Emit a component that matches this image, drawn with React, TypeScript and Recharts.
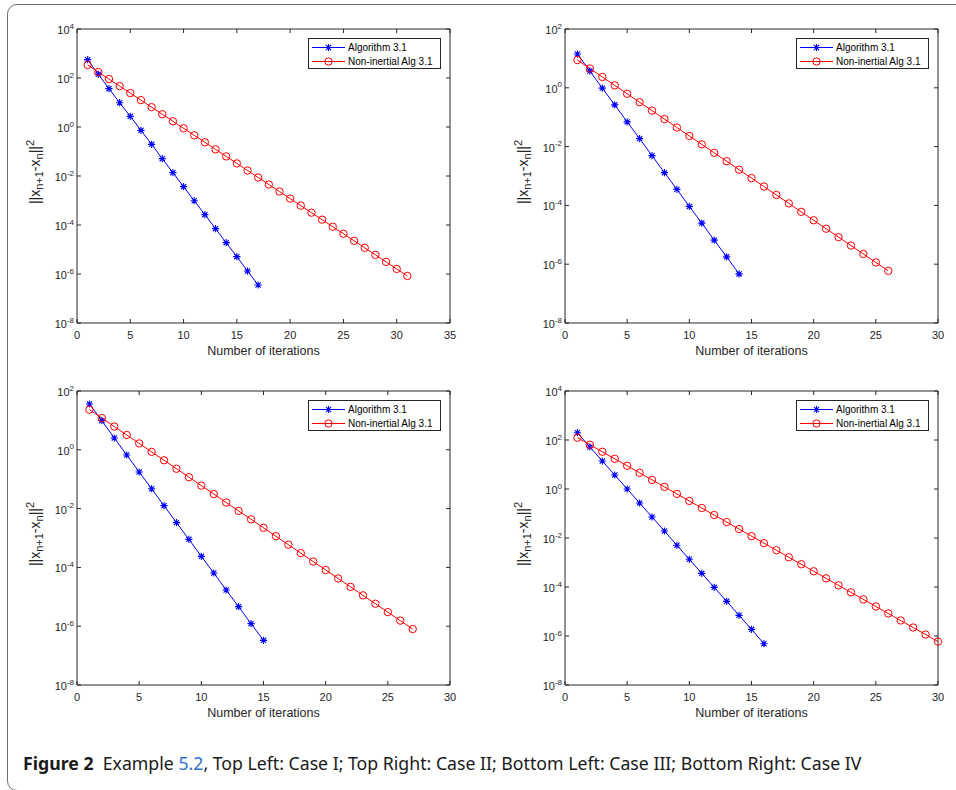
import React from 'react';
import { LineChart, Line, XAxis, YAxis, Legend } from 'recharts';

const FONT = '"Liberation Sans", Arial, Helvetica, sans-serif';
const AX = '#262626';
const BLUE = '#0000ff';
const RED = '#ff0000';

const seriesNames = ['Algorithm 3.1', 'Non-inertial Alg 3.1'];

// Case I (top left)
const caseIAlg = [560, 141, 36.7, 9.8, 2.72, 0.73, 0.196, 0.051, 0.0137, 0.00367, 9.8e-4, 2.64e-4, 7.1e-5, 1.9e-5, 5.1e-6, 1.32e-6, 3.56e-7];
const caseINon = [340, 175, 90.6, 46.8, 24.2, 12.5, 6.44, 3.33, 1.72, 0.887, 0.458, 0.237, 0.122, 0.0631, 0.0326, 0.0168, 0.00869, 0.00449, 0.00232, 0.0012, 6.18e-4, 3.19e-4, 1.65e-4, 8.51e-5, 4.4e-5, 2.27e-5, 1.17e-5, 6.05e-6, 3.13e-6, 1.61e-6, 8.34e-7];

// Case II (top right)
const caseIIAlg = [14.1, 3.7, 0.975, 0.263, 0.0693, 0.0187, 0.00493, 0.0013, 3.51e-4, 9.24e-5, 2.5e-5, 6.58e-6, 1.78e-6, 4.68e-7];
const caseIINon = [8.77, 4.53, 2.34, 1.21, 0.625, 0.323, 0.167, 0.0863, 0.0446, 0.023, 0.0119, 0.00615, 0.00318, 0.00164, 8.47e-4, 4.39e-4, 2.26e-4, 1.17e-4, 6.04e-5, 3.12e-5, 1.61e-5, 8.34e-6, 4.31e-6, 2.22e-6, 1.15e-6, 5.94e-7];

// Case III (bottom left)
const caseIIIAlg = [36.1, 9.79, 2.52, 0.665, 0.176, 0.0476, 0.0126, 0.00333, 9.01e-4, 2.38e-4, 6.45e-5, 1.7e-5, 4.62e-6, 1.22e-6, 3.3e-7];
const caseIIINon = [23.2, 12.0, 6.18, 3.19, 1.65, 0.851, 0.44, 0.227, 0.117, 0.0605, 0.0313, 0.0161, 0.00834, 0.00431, 0.00222, 0.00115, 5.93e-4, 3.06e-4, 1.58e-4, 8.17e-5, 4.22e-5, 2.18e-5, 1.12e-5, 5.81e-6, 3.0e-6, 1.55e-6, 8.0e-7];

// Case IV (bottom right)
const caseIVAlg = [199, 51.8, 13.9, 3.73, 1.0, 0.268, 0.072, 0.0193, 0.00503, 0.00135, 3.61e-4, 9.69e-5, 2.6e-5, 6.98e-6, 1.87e-6, 4.86e-7];
const caseIVNon = [124, 64.3, 33.2, 17.1, 8.85, 4.57, 2.36, 1.22, 0.63, 0.325, 0.168, 0.0867, 0.0448, 0.0231, 0.0119, 0.00617, 0.00318, 0.00164, 8.49e-4, 4.39e-4, 2.26e-4, 1.17e-4, 6.04e-5, 3.12e-5, 1.61e-5, 8.32e-6, 4.3e-6, 2.22e-6, 1.15e-6, 5.92e-7];

const xTicks35 = [0, 5, 10, 15, 20, 25, 30, 35];
const xTicks30 = [0, 5, 10, 15, 20, 25, 30];
const yMajor4 = [1e-8, 1e-6, 1e-4, 1e-2, 1, 1e2, 1e4];
const yMajor2 = [1e-8, 1e-6, 1e-4, 1e-2, 1, 1e2];

// minor log ticks (2..9 x 10^k and the odd decades)
const minorTicks = (topExp: number) => {
    const out: number[] = [];
    for (let k = -8; k < topExp; k++) {
        for (let m = 1; m <= 9; m++) {
            if (m === 1 && k % 2 === 0) continue;
            out.push(m * Math.pow(10, k));
        }
    }
    return out;
};

const toPoints = (vals: number[]) => vals.map((v, i) => ({ n: i + 1, v }));

const Asterisk = ({ cx, cy }: { cx: number; cy: number }) => {
    const r = 3.6;
    const d = r * 0.72;
    return (
        <path
            d={`M${cx - r},${cy}H${cx + r}M${cx},${cy - r}V${cy + r}M${cx - d},${cy - d}L${cx + d},${cy + d}M${cx - d},${cy + d}L${cx + d},${cy - d}`}
            stroke={BLUE}
            strokeWidth={1.1}
            fill="none"
        />
    );
};

const Ring = ({ cx, cy }: { cx: number; cy: number }) => (
    <circle cx={cx} cy={cy} r={3.7} stroke={RED} strokeWidth={1} fill="none" />
);

const NoTick = () => null;

const XLabel = (props: any) => {
    const vb = props.viewBox;
    return (
        <text x={vb.x + vb.width / 2} y={vb.y + 32} textAnchor="middle" fontSize={12.5} fill={AX} fontFamily={FONT}>
            Number of iterations
        </text>
    );
};

const YLabel = (props: any) => {
    const vb = props.viewBox;
    const bx = vb.x + vb.width - 37;
    const cy = vb.y + vb.height / 2 - 4;
    return (
        <text transform={`translate(${bx},${cy}) rotate(-90)`} textAnchor="middle" fontSize={14} fill={AX} fontFamily={FONT}>
            <tspan>||x</tspan>
            <tspan dy={3} fontSize={11}>n+1</tspan>
            <tspan dy={-3}>-x</tspan>
            <tspan dy={3} fontSize={11}>n</tspan>
            <tspan dy={-3}>||</tspan>
            <tspan dy={-6.5} fontSize={11}>2</tspan>
        </text>
    );
};

const LegendBox = () => (
    <svg width={133} height={31} style={{ display: 'block' }}>
        <rect x={0.5} y={0.5} width={132} height={30} fill="#fff" stroke={AX} strokeWidth={1} />
        <line x1={4} x2={37} y1={9.5} y2={9.5} stroke={BLUE} strokeWidth={1} />
        <Asterisk cx={20.5} cy={9.5} />
        <text x={40} y={13} fontSize={10} fill="#000" fontFamily={FONT}>{seriesNames[0]}</text>
        <line x1={4} x2={37} y1={23.5} y2={23.5} stroke={RED} strokeWidth={1} />
        <Ring cx={20.5} cy={23.5} />
        <text x={40} y={27} fontSize={10} fill="#000" fontFamily={FONT}>{seriesNames[1]}</text>
    </svg>
);

interface PanelProps {
    left: number;
    top: number;
    pl: number;
    pt: number;
    xMax: number;
    xTicks: number[];
    yTop: number;
    yMajor: number[];
    alg: number[];
    non: number[];
}

const W = 478;
const H = 370;
const PW = 373;
const PH = 294;
const MAJOR = 4;
const MINOR = 2.2;

const Panel: React.FC<PanelProps> = ({ left, top, pl, pt, xMax, xTicks, yTop, yMajor, alg, non }) => {
    // the right and top axes are 1px wide so recharts still draws them
    const margin = { left: pl - 40, top: pt - 1, right: W - pl - PW - 1, bottom: H - pt - PH - 30 };
    const yDomain = [1e-8, Math.pow(10, yTop)];
    const minors = minorTicks(yTop);
    const pb = pt + PH;
    const pr = pl + PW;

    // inward ticks on both bottom and top edges, label below
    const xTick = (p: any) => (
        <g>
            <line x1={p.x} x2={p.x} y1={pb} y2={pb - MAJOR} stroke={AX} />
            <line x1={p.x} x2={p.x} y1={pt} y2={pt + MAJOR} stroke={AX} />
            <text x={p.x} y={p.y} dy="0.71em" textAnchor="middle" fontSize={11} fill={AX} fontFamily={FONT}>
                {p.payload.value}
            </text>
        </g>
    );

    // major decade ticks on left and right edges, 10^k label on the left
    const yTick = (p: any) => {
        const e = Math.round(Math.log10(p.payload.value));
        return (
            <g>
                <line x1={pl} x2={pl + MAJOR} y1={p.y} y2={p.y} stroke={AX} />
                <line x1={pr} x2={pr - MAJOR} y1={p.y} y2={p.y} stroke={AX} />
                <text x={p.x} y={p.y} textAnchor="end" fontSize={11} fill={AX} fontFamily={FONT}>
                    <tspan dy={5}>10</tspan>
                    <tspan dy={-5.5} fontSize={8}>{e}</tspan>
                </text>
            </g>
        );
    };

    const yMinorTick = (p: any) => (
        <g>
            <line x1={pl} x2={pl + MINOR} y1={p.y} y2={p.y} stroke={AX} />
            <line x1={pr} x2={pr - MINOR} y1={p.y} y2={p.y} stroke={AX} />
        </g>
    );

    return (
        <div style={{ position: 'absolute', left, top }}>
            <LineChart width={W} height={H} margin={margin}>
                <XAxis xAxisId="b" type="number" dataKey="n" domain={[0, xMax]} ticks={xTicks} interval={0}
                    height={30} tickSize={0} tickMargin={8} tickLine={false} stroke={AX} tick={xTick} label={{ content: XLabel }} />
                <XAxis xAxisId="t" orientation="top" type="number" dataKey="n" domain={[0, xMax]} ticks={xTicks} interval={0}
                    height={1} tickSize={0} tickLine={false} stroke={AX} tick={NoTick} />
                <YAxis yAxisId="l" type="number" scale="log" domain={yDomain} ticks={yMajor} interval={0}
                    width={40} tickSize={0} tickMargin={3} tickLine={false} stroke={AX} tick={yTick} label={{ content: YLabel }} />
                <YAxis yAxisId="r" orientation="right" type="number" scale="log" domain={yDomain} ticks={minors} interval={0}
                    width={1} tickSize={0} tickLine={false} stroke={AX} tick={yMinorTick} />
                <Legend layout="vertical" align="center" verticalAlign="middle" content={() => <LegendBox />}
                    wrapperStyle={{ left: pr - 142, top: pt + 9, width: 133, height: 31 }} />
                <Line xAxisId="b" yAxisId="l" data={toPoints(alg)} dataKey="v" name={seriesNames[0]} stroke={BLUE}
                    strokeWidth={1} isAnimationActive={false}
                    dot={(p: any) => <Asterisk key={`a${p.index}`} cx={p.cx} cy={p.cy} />} activeDot={false} />
                <Line xAxisId="b" yAxisId="l" data={toPoints(non)} dataKey="v" name={seriesNames[1]} stroke={RED}
                    strokeWidth={1} isAnimationActive={false}
                    dot={(p: any) => <Ring key={`r${p.index}`} cx={p.cx} cy={p.cy} />} activeDot={false} />
            </LineChart>
        </div>
    );
};

export default function App() {
    return (
        <div style={{ position: 'absolute', left: 0, top: 0, width: 956, height: 790, overflow: 'hidden', background: '#fff' }}>
            <div style={{ position: 'absolute', left: 7, top: 4, width: 1000, height: 787, border: '1px solid #6e6e6e', borderRadius: 10, boxSizing: 'border-box' }} />
            <Panel left={0} top={0} pl={77} pt={29} xMax={35} xTicks={xTicks35} yTop={4} yMajor={yMajor4} alg={caseIAlg} non={caseINon} />
            <Panel left={478} top={0} pl={87} pt={29} xMax={30} xTicks={xTicks30} yTop={2} yMajor={yMajor2} alg={caseIIAlg} non={caseIINon} />
            <Panel left={0} top={370} pl={77} pt={21} xMax={30} xTicks={xTicks30} yTop={2} yMajor={yMajor2} alg={caseIIIAlg} non={caseIIINon} />
            <Panel left={478} top={370} pl={87} pt={21} xMax={30} xTicks={xTicks30} yTop={4} yMajor={yMajor4} alg={caseIVAlg} non={caseIVNon} />
            <div style={{ position: 'absolute', left: 23, top: 751, fontFamily: '"Noto Sans", "Open Sans", sans-serif', fontSize: 17.7, lineHeight: '24px', whiteSpace: 'nowrap', color: '#1a1a1a' }}>
                <b>Figure 2</b>&nbsp;&nbsp;Example <span style={{ color: '#2f6fd0' }}>5.2</span>, Top Left: Case I; Top Right: Case II; Bottom Left: Case III; Bottom Right: Case IV
            </div>
        </div>
    );
}
